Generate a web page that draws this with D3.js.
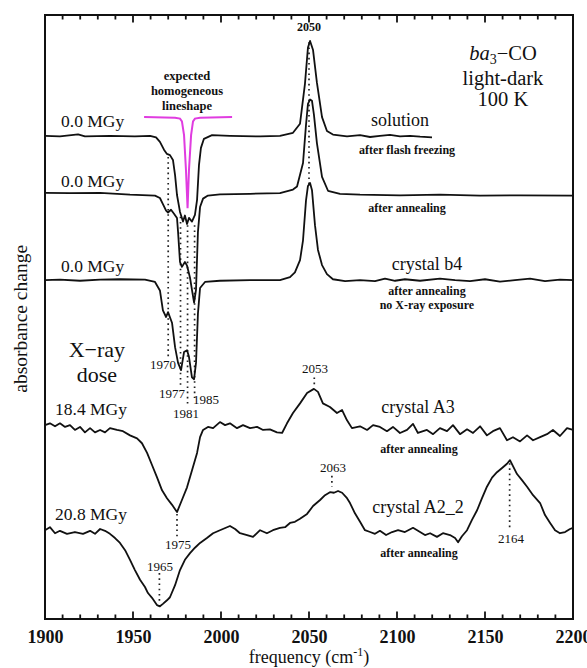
<!DOCTYPE html>
<html>
<head>
<meta charset="utf-8">
<script src="https://cdn.jsdelivr.net/npm/d3@7"></script>
<style>
  body { margin: 0; background: #fff; }
  text { font-family: 'Liberation Serif', 'Times New Roman', serif; fill: #111; }
</style>
</head>
<body>
<script>

// spectra: [frequency (cm-1), absorbance change relative to its own baseline, arb. units]
var solution = [[1900,0],[1908.5,-0.1],[1918.8,0.25],[1922.7,-0.1],[1936.9,0],[1951.1,-0.1],[1959.7,0],[1963.1,-0.25],
  [1965.3,-1.0],[1967.6,-2.3],[1969.3,-3.0],[1971.0,-3.2],[1972.7,-4.0],[1973.9,-6.5],[1975.0,-9.8],[1976.7,-12.6],
  [1978.4,-14.2],[1979.5,-13.2],[1980.7,-14.6],[1981.8,-13.6],[1983.5,-14.2],[1985.2,-13.1],[1986.4,-10.6],[1987.5,-4.8],
  [1988.6,-2.0],[1990.3,-0.5],[1994.9,0.1],[2005.1,0],[2022.2,-0.1],[2033.5,0],[2040.9,0.5],[2044.9,2.0],[2047.7,8.6],
  [2049.4,14.6],[2050.6,15.7],[2052.3,14.2],[2054.5,8.8],[2057.4,3.1],[2060.2,0.8],[2063.6,0.2],[2071.6,-0.1],[2079.0,0.1],
  [2084.7,-0.2],[2090.3,0],[2096.0,0.15],[2101.7,-0.1],[2107.4,0],[2113.1,-0.15],[2119.9,-0.25]]

var annealed = [[1900,0.15],[1914.2,0.1],[1931.3,0.15],[1948.3,-0.15],[1962.5,-0.3],[1965.3,-0.7],[1967.0,-1.7],
  [1968.8,-2.8],[1969.9,-3.1],[1971.6,-2.65],[1973.3,-3.3],[1975.0,-4.0],[1975.6,-6.3],[1976.7,-11.3],[1977.8,-12.1],
  [1979.5,-11.3],[1980.7,-11.9],[1982.4,-13.9],[1983.5,-15.9],[1984.7,-18.0],[1985.8,-15.9],[1986.9,-6.3],[1988.1,-2.2],
  [1989.8,-0.8],[1992.6,-0.3],[1999.4,-0.1],[2016.5,0],[2033.5,0.1],[2040.9,0.7],[2043.2,1.2],[2046.6,5.1],[2048.3,11.4],
  [2049.4,14.9],[2050.6,15.6],[2051.7,15.4],[2052.8,13.1],[2054.5,8.4],[2057.4,2.8],[2060.8,0.5],[2067.6,0],[2079.0,-0.15],
  [2101.7,-0.25],[2124.4,-0.15],[2147.2,-0.3],[2169.9,-0.25],[2200,-0.3]]

var crystalB4 = [[1900,0],[1908.5,0.1],[1919.9,-0.1],[1931.3,0.1],[1942.6,0.15],[1956.8,0.1],[1962.5,-0.3],[1965.3,-1.7],
  [1967.0,-5.0],[1968.8,-6.1],[1969.9,-5.3],[1972.2,-7.1],[1973.9,-11.1],[1975.6,-13.7],[1977.3,-14.9],[1979.0,-11.9],
  [1980.7,-11.6],[1981.8,-12.7],[1983.5,-16.1],[1984.7,-16.4],[1985.8,-13.7],[1986.9,-5.5],[1988.1,-1.3],[1990.9,-0.3],
  [1999.4,-0.1],[2016.5,0],[2033.5,0],[2039.2,0.5],[2042.0,1.3],[2044.9,3.3],[2046.6,6.6],[2048.3,13.2],[2049.4,15.6],
  [2050.6,16.1],[2051.7,14.9],[2053.4,9.1],[2055.1,5.0],[2057.4,2.5],[2060.2,1.0],[2063.6,0.15],[2070.5,-0.15],[2079,0],
  [2087.5,-0.15],[2093.2,0.25],[2098.9,-0.1],[2104.5,0.15],[2113.1,-0.1],[2124.4,0.25],[2133.0,0],[2141.5,-0.15],
  [2150.0,0.15],[2158.5,-0.25],[2167.0,0],[2175.6,0.25],[2184.1,-0.15],[2192.6,0.1],[2200,0]]

var crystalA3 = [[1900,0.5],[1902.8,0.8],[1905.7,0.3],[1908.5,0.8],[1911.4,0.2],[1914.2,0.5],[1917.0,-0.3],[1919.9,0.2],
  [1922.7,-0.7],[1925.6,0],[1928.4,-0.7],[1931.3,-0.3],[1934.1,-0.7],[1936.9,0],[1940.9,-0.3],[1944.3,-0.5],[1948.3,-1.2],
  [1952.3,-1.7],[1955.1,-2.5],[1958.0,-4.1],[1960.8,-6.1],[1963.6,-8.1],[1966.5,-10.3],[1969.3,-11.6],[1972.2,-12.7],
  [1975.0,-13.9],[1977.8,-11.9],[1980.7,-9.8],[1983.5,-7.0],[1986.4,-4.1],[1988.1,-1.5],[1989.8,-0.3],[1992.6,0.2],
  [1995.5,0],[1999.4,1.0],[2002.3,0.5],[2005.1,0.8],[2009.1,0],[2012.5,0.5],[2016.5,0],[2020.5,0.2],[2023.9,-0.3],
  [2027.8,-0.2],[2031.8,-0.7],[2034.7,-0.8],[2037.5,0.8],[2040.9,2.5],[2044.9,4.1],[2048.9,5.8],[2052.8,6.5],[2055.1,6.0],
  [2057.9,4.1],[2061.9,3.5],[2065.9,2.5],[2068.8,3.0],[2071.6,1.3],[2074.4,0],[2079.0,0.3],[2083.0,-0.3],[2086.4,0.5],
  [2090.3,0.2],[2094.3,-0.5],[2097.7,0.2],[2101.7,-0.8],[2105.7,-0.3],[2109.1,0.7],[2111.9,-0.8],[2117.0,-0.3],
  [2120.5,-1.0],[2124.4,0],[2128.4,-0.5],[2131.8,0.5],[2135.8,-1.0],[2139.8,-0.2],[2143.2,-0.8],[2147.2,0.3],
  [2151.1,-1.2],[2154.5,-0.5],[2158.5,0],[2162.5,-2.0],[2165.9,-1.5],[2169.9,-2.2],[2173.9,-1.2],[2177.3,-2.0],
  [2181.3,-1.5],[2185.2,-1.0],[2188.6,-0.3],[2192.6,-1.3],[2196.6,0],[2200,-0.3]]

var crystalA2 = [[1900,0.3],[1902.8,0.8],[1905.7,-0.2],[1908.5,0.2],[1912.5,-0.3],[1917.0,0],[1921.6,-0.3],[1925.6,0.2],
  [1928.4,-0.3],[1931.3,0.5],[1934.1,0.2],[1936.9,-0.3],[1939.8,-1.0],[1942.6,-1.8],[1945.5,-3.0],[1948.3,-4.6],
  [1951.1,-6.3],[1954.0,-7.9],[1956.8,-9.1],[1958.5,-10.1],[1960.8,-10.9],[1963.6,-12.1],[1965.3,-12.3],[1967.0,-11.9],
  [1969.3,-11.3],[1971.0,-10.8],[1973.9,-8.8],[1976.7,-6.3],[1979.5,-4.6],[1982.4,-3.5],[1985.2,-2.6],[1988.1,-1.8],
  [1992.0,-1.0],[1995.5,-0.2],[1999.4,0.3],[2005.1,1.0],[2008.0,0.5],[2010.8,-0.2],[2014.8,-0.5],[2018.2,-0.8],
  [2022.2,0.3],[2026.1,-0.2],[2029.5,0.3],[2033.5,0.7],[2036.4,0.8],[2039.2,1.5],[2042.0,1.7],[2044.9,2.2],[2048.9,3.0],
  [2052.3,4.3],[2056.3,5.3],[2059.1,6.1],[2061.9,6.6],[2064.2,6.5],[2066.5,6.8],[2068.8,6.5],[2071.6,5.6],[2073.3,4.8],
  [2076.1,3.1],[2079.0,1.7],[2081.8,0.3],[2084.7,0],[2087.5,-0.3],[2090.3,0.2],[2093.8,-0.5],[2097.2,0],[2100.6,0.3],
  [2104.5,0],[2109.1,0.7],[2113.1,0],[2115.9,-0.5],[2118.8,-0.2],[2122.7,-0.8],[2126.1,-0.2],[2130.1,-0.5],[2133.0,-1.0],
  [2134.7,-1.7],[2136.9,-0.7],[2139.8,0.3],[2142.6,2.0],[2145.5,3.6],[2148.3,5.6],[2151.1,7.5],[2154.0,9.0],[2156.8,9.9],
  [2159.7,10.6],[2162.5,11.3],[2164.2,11.9],[2165.9,10.9],[2168.2,9.6],[2171.0,8.6],[2173.9,7.5],[2177.3,6.1],
  [2181.3,4.8],[2184.1,2.8],[2187.0,1.5],[2189.8,0.3],[2192.6,-0.2],[2195.5,0],[2198.3,0.5],[2200,0.7]]

// expected homogeneous lineshape (magenta)
var homogeneous = [[1956.3,0],[1973.9,-0.1],[1976.7,-0.25],[1977.8,-0.7],[1979.0,-3.0],[1980.1,-8.8],[1981,-15.1],
  [1981.8,-8.8],[1983,-3.0],[1984.1,-0.7],[1985.2,-0.25],[1988.1,-0.1],[2006.3,0]]

var spectra = [solution, annealed, crystalB4, crystalA3, crystalA2]
var offsets = [80.0, 70.4, 56.1, 31.6, 14.4]
var homogeneousOffset = 83.1

// dotted peak markers: [frequency, top, bottom]
var markers = [[1970,76.5,43.4],[1977,66.6,38.2],[1981,65.2,35.4],[1985,65.2,36.6],[2050,95.5,72.0],
  [2053,40.0,38.8],[1975,17.4,13.4],[1965,7.6,2.8],[2063,23.7,21.9],[2164,25.8,14.8]]

var majorTicks = [1900, 1950, 2000, 2050, 2100, 2150, 2200]
var minorTicks = d3.range(1900, 2201, 10)

var width = 587, height = 668
var margin = { left: 45, right: 14, top: 15, bottom: 49 }

var svg = d3.select('body').append('svg')
    .attr('width', width)
    .attr('height', height)

var x = d3.scaleLinear().domain([1900, 2200]).range([margin.left, width - margin.right])
var y = d3.scaleLinear().domain([0, 100]).range([height - margin.bottom, margin.top])

var line = d3.line()
    .x(d => x(d[0]))
    .y(d => y(d[1]))

// dotted lines first, traces on top
markers.forEach(function(m) {
    svg.append('line')
        .attr('x1', x(m[0])).attr('x2', x(m[0]))
        .attr('y1', y(m[1])).attr('y2', y(m[2]))
        .attr('stroke', '#222')
        .attr('stroke-width', 1.7)
        .attr('stroke-dasharray', '1.6 3.6')
})

spectra.forEach(function(s, i) {
    svg.append('path')
        .datum(s.map(d => [d[0], d[1] + offsets[i]]))
        .attr('d', line)
        .attr('fill', 'none')
        .attr('stroke', '#111')
        .attr('stroke-width', 1.8)
        .attr('stroke-linejoin', 'round')
})

svg.append('path')
    .datum(homogeneous.map(d => [d[0], d[1] + homogeneousOffset]))
    .attr('d', line)
    .attr('fill', 'none')
    .attr('stroke', '#e03ce0')
    .attr('stroke-width', 2)

// inward ticks on top and bottom frame
var plotTop = margin.top
var plotBottom = height - margin.bottom
var tickG = svg.append('g').attr('stroke', '#111').attr('stroke-width', 1.8)
minorTicks.forEach(function(v) {
    var len = majorTicks.indexOf(v) >= 0 ? 7.5 : 4.5
    tickG.append('line')
        .attr('x1', x(v)).attr('x2', x(v))
        .attr('y1', plotBottom).attr('y2', plotBottom - len)
    tickG.append('line')
        .attr('x1', x(v)).attr('x2', x(v))
        .attr('y1', plotTop).attr('y2', plotTop + len)
})

// tick labels
var xAxis = svg.append('g')
    .attr('transform', 'translate(0,' + plotBottom + ')')
    .call(d3.axisBottom(x).tickValues(majorTicks).tickSize(0).tickPadding(11).tickFormat(d3.format('d')))
xAxis.select('.domain').remove()
xAxis.selectAll('text')
    .style('font-family', "'Liberation Serif', serif")
    .style('font-size', '18px')
    .style('font-weight', 'bold')
    .attr('fill', '#111')

svg.append('rect')
    .attr('x', margin.left).attr('y', margin.top)
    .attr('width', width - margin.left - margin.right)
    .attr('height', height - margin.top - margin.bottom)
    .attr('fill', 'none')
    .attr('stroke', '#111')
    .attr('stroke-width', 2)

// axis titles
var xTitle = svg.append('text')
    .attr('x', x(2050)).attr('y', 663)
    .attr('text-anchor', 'middle')
    .style('font-size', '18px')
xTitle.append('tspan').text('frequency (cm')
xTitle.append('tspan').attr('dy', -7).style('font-size', '12px').text('-1')
xTitle.append('tspan').attr('dy', 7).text(')')

svg.append('text')
    .attr('transform', 'translate(27,' + y(49.7) + ') rotate(-90)')
    .attr('text-anchor', 'middle')
    .style('font-size', '19.5px')
    .text('absorbance change')

function label(f, v, txt, size, weight, anchor) {
    return svg.append('text')
        .attr('x', x(f)).attr('y', y(v))
        .attr('text-anchor', anchor || 'middle')
        .style('font-size', size + 'px')
        .style('font-weight', weight || 'normal')
        .text(txt)
}

// dose labels
label(1909.1, 81.5, '0.0 MGy', 17.5, 'normal', 'start')
label(1909.1, 71.5, '0.0 MGy', 17.5, 'normal', 'start')
label(1909.1, 57.5, '0.0 MGy', 17.5, 'normal', 'start')
label(1905.7, 33.8, '18.4 MGy', 17.5, 'normal', 'start')
label(1905.7, 16.4, '20.8 MGy', 17.5, 'normal', 'start')
label(1929.5, 43.4, 'X\u2212ray', 22)
label(1929.5, 39.2, 'dose', 22)

// homogeneous lineshape caption
label(1980.7, 89.2, 'expected', 12.5, 'bold')
label(1980.7, 86.8, 'homogeneous', 12.5, 'bold')
label(1980.7, 84.3, 'lineshape', 12.5, 'bold')

// title block
var t = svg.append('text')
    .attr('x', x(2160.2)).attr('y', y(92.5))
    .attr('text-anchor', 'middle')
    .style('font-size', '20.5px')
t.append('tspan').style('font-style', 'italic').text('ba')
t.append('tspan').attr('dy', 4).style('font-size', '14px').text('3')
t.append('tspan').attr('dy', -4).text('\u2212CO')
label(2160.2, 88.4, 'light-dark', 20.5)
label(2160.2, 84.9, '100 K', 20.5)

// sample labels
label(2101.7, 81.6, 'solution', 18)
label(2105.7, 77.0, 'after flash freezing', 12, 'bold')
label(2105.7, 67.4, 'after annealing', 12, 'bold')
label(2117.0, 57.8, 'crystal b4', 18)
label(2117.0, 53.6, 'after annealing', 12, 'bold')
label(2117.0, 51.3, 'no X-ray exposure', 12, 'bold')
label(2111.9, 34.1, 'crystal A3', 18)
label(2112.5, 27.5, 'after annealing', 12, 'bold')
label(2111.9, 17.5, 'crystal A2_2', 18)
label(2112.5, 10.3, 'after annealing', 12, 'bold')

// peak positions
label(2050, 97.4, '2050', 12, 'bold')
label(1967.0, 41.4, '1970', 13)
label(1972.2, 36.6, '1977', 13)
label(1991.5, 35.6, '1985', 13)
label(1980.1, 33.3, '1981', 13)
label(2053.4, 40.7, '2053', 13)
label(1975.6, 11.6, '1975', 13)
label(1965.3, 7.9, '1965', 13)
label(2063.6, 24.3, '2063', 13)
label(2164.8, 12.6, '2164', 13)

</script>
</body>
</html>
